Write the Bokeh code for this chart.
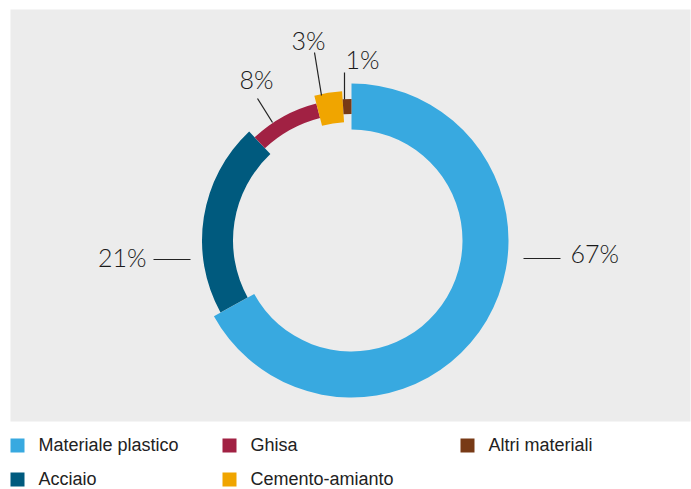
import numpy as np
from bokeh.plotting import figure
from bokeh.models import Range1d, ColumnDataSource
from bokeh.core.properties import value
from bokeh.embed import file_html
from bokeh.resources import INLINE

# ---- data ----
categories = ["Materiale plastico", "Acciaio", "Ghisa", "Cemento-amianto", "Altri materiali"]
shares = [67, 21, 8, 3, 1]
pct_labels = ["67%", "21%", "8%", "3%", "1%"]

# ---- styles ----
colors = ["#38a9e0", "#005a7e", "#a12143", "#f0a500", "#783a16"]
thickness = [46, 31, 15, 31, 15]

W, H = 691, 489
def Y(py):
    return H - py

p = figure(width=W, height=H, output_backend="svg", toolbar_location=None,
           x_range=Range1d(0, W), y_range=Range1d(0, H), min_border=0,
           background_fill_color="white", border_fill_color="white")
p.axis.visible = False
p.grid.visible = False
p.outline_line_color = None

# grey panel
p.quad(left=[10], right=[690], top=[Y(9)], bottom=[Y(421)], fill_color="#ececec", line_color=None)

# donut
cx, cy, mid_r = 351, Y(240), 134
frac = np.array(shares, dtype=float) / np.sum(shares)
cum = np.concatenate([[0], np.cumsum(frac)])
start = np.pi / 2 - cum[:-1] * 2 * np.pi
end = np.pi / 2 - cum[1:] * 2 * np.pi
th = np.array(thickness, dtype=float)
src = ColumnDataSource(dict(x=[cx] * len(shares), y=[cy] * len(shares),
                            ir=mid_r - th / 2, orr=mid_r + th / 2,
                            s=start, e=end, c=colors))
p.annular_wedge(x="x", y="y", inner_radius="ir", outer_radius="orr",
                start_angle="s", end_angle="e", direction="clock",
                fill_color="c", line_color=None, source=src)

# leader lines and labels (layout)
leaders = [
    ((523, 258), (560, 258), (570, 252), "left"),
    ((153, 259), (190, 259), (146, 256), "right"),
    ((272, 122), (257, 98), (256, 78), "center"),
    ((321, 95), (314, 52), (308, 39), "center"),
    ((344, 99), (344, 72), (362, 58), "center"),
]
for (a, b, t, al), lab in zip(leaders, pct_labels):
    p.line([a[0], b[0]], [Y(a[1]), Y(b[1])], line_color="#222222", line_width=1.2)
    p.text(x=[t[0]], y=[Y(t[1])], text=[lab], text_align=al, text_baseline="middle",
           text_font=value("Lato Light, Lato, sans-serif"), text_font_size="25px",
           text_color="#1a1a1a")

# legend
col_x = [10, 222, 460]
row_y = [444, 478]
for i, (cat, col) in enumerate(zip(categories, colors)):
    cxl = col_x[i // 2]
    ry = row_y[i % 2]
    p.rect(x=[cxl + 7], y=[Y(ry + 1)], width=14, height=14, fill_color=col, line_color=None)
    p.text(x=[cxl + 28], y=[Y(ry)], text=[cat], text_align="left", text_baseline="middle",
           text_font=value("Liberation Sans"), text_font_size="18px", text_color="#222222")

open("out.html", "w").write(file_html(p, INLINE))
